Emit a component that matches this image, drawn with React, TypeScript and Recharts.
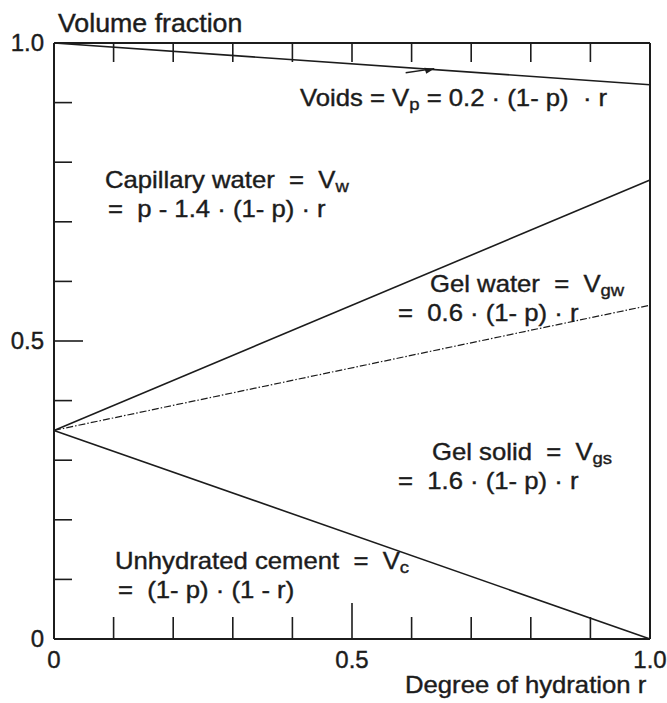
import React from 'react';
import { Line, LineChart, XAxis, YAxis } from 'recharts';

// degree of hydration r at the two ends of every straight boundary
const R_VALUES = [0, 1];
// cumulative volume fraction at r = 0 and r = 1
const VOIDS_TOP = [1.0, 0.93];
const CAPILLARY_LOWER = [0.35, 0.77];
const GEL_WATER_LOWER = [0.35, 0.56];
const CEMENT_UPPER = [0.35, 0.0];

// little arrow from the "Voids" label up to the top boundary
const ARROW_R = [0.59, 0.638];
const ARROW_V = [0.95, 0.957];

const X_TICKS = [0, 0.1, 0.2, 0.3, 0.4, 0.5, 0.6, 0.7, 0.8, 0.9, 1];
const Y_TICKS = [0, 0.1, 0.2, 0.3, 0.4, 0.5, 0.6, 0.7, 0.8, 0.9, 1];
const X_TICK_LABELS: Record<string, string> = { '0': '0', '0.5': '0.5', '1': '1.0' };
const Y_TICK_LABELS: Record<string, string> = { '0': '0', '0.5': '0.5', '1': '1.0' };

const data = R_VALUES.map((r, i) => ({
  r,
  top: VOIDS_TOP[i],
  capillary: CAPILLARY_LOWER[i],
  gelWater: GEL_WATER_LOWER[i],
  cement: CEMENT_UPPER[i],
}));
const arrowData = ARROW_R.map((r, i) => ({ r, v: ARROW_V[i] }));

const INK = '#1c1c1c';
const FONT = '"Liberation Sans", Arial, sans-serif';

const isMajor = (v: number) => Math.abs(v - 0.5) < 1e-6;
const isEnd = (v: number) => v < 1e-6 || v > 1 - 1e-6;

function BottomTick(props: any) {
  const { x, y, payload } = props;
  const v = payload.value as number;
  const label = X_TICK_LABELS[String(v)];
  return (
    <g>
      {!isEnd(v) && <line x1={x} y1={y} x2={x} y2={y - (isMajor(v) ? 36 : 22)} stroke={INK} strokeWidth={1.6} />}
      {label && (
        <text x={x} y={y + 29} textAnchor="middle" fontFamily={FONT} fontSize={24} fill={INK} stroke={INK} strokeWidth={0.4}>
          {label}
        </text>
      )}
    </g>
  );
}

function TopTick(props: any) {
  const { x, y, payload } = props;
  const v = payload.value as number;
  if (isEnd(v)) return <g />;
  return <line x1={x} y1={y} x2={x} y2={y + 19} stroke={INK} strokeWidth={1.6} />;
}

function LeftTick(props: any) {
  const { x, y, payload } = props;
  const v = payload.value as number;
  const label = Y_TICK_LABELS[String(v)];
  return (
    <g>
      {!isEnd(v) && <line x1={x} y1={y} x2={x + (isMajor(v) ? 29 : 18)} y2={y} stroke={INK} strokeWidth={1.6} />}
      {label && (
        <text x={x - 10} y={y + 8} textAnchor="end" fontFamily={FONT} fontSize={24} fill={INK} stroke={INK} strokeWidth={0.4}>
          {label}
        </text>
      )}
    </g>
  );
}

function RightTick(props: any) {
  const { x, y, payload } = props;
  const v = payload.value as number;
  if (isEnd(v)) return <g />;
  return <line x1={x} y1={y} x2={x - (isMajor(v) ? 27 : 16)} y2={y} stroke={INK} strokeWidth={1.6} />;
}

function ArrowHead(props: any) {
  const { cx, cy, index } = props;
  if (index !== 1) return <g key={`a${index}`} />;
  return (
    <polygon
      key="head"
      points={`${cx},${cy} ${cx - 10},${cy - 1} ${cx - 8},${cy + 5}`}
      fill={INK}
    />
  );
}

function Sub({ children }: { children: React.ReactNode }) {
  return <span style={{ fontSize: '0.72em', position: 'relative', top: '0.25em' }}>{children}</span>;
}

function Note({ left, top, children, size = 24 }: { left: number; top: number; children: React.ReactNode; size?: number }) {
  return (
    <div
      style={{
        position: 'absolute',
        left,
        top,
        transform: 'translateY(-50%) scaleX(1.07)',
        transformOrigin: 'left center',
        fontFamily: FONT,
        fontSize: size,
        color: INK,
        whiteSpace: 'pre',
        lineHeight: 1,
        WebkitTextStroke: '0.4px #1c1c1c',
      }}
    >
      {children}
    </div>
  );
}

const AXIS_LINE = { stroke: INK, strokeWidth: 2 };

export default function App() {
  return (
    <div style={{ position: 'absolute', left: 0, top: 0, width: 667, height: 703, background: '#fff' }}>
      <LineChart width={667} height={703} data={data} margin={{ top: 13, right: 7, bottom: 34, left: 24 }}>
        <XAxis
          xAxisId="bottom"
          dataKey="r"
          type="number"
          domain={[0, 1]}
          ticks={X_TICKS}
          height={30}
          tickSize={0}
          tickMargin={0}
          tickLine={false}
          axisLine={AXIS_LINE}
          tick={<BottomTick />}
          interval={0}
        />
        <XAxis
          xAxisId="top"
          orientation="top"
          dataKey="r"
          type="number"
          domain={[0, 1]}
          ticks={X_TICKS}
          height={30}
          tickSize={0}
          tickMargin={0}
          tickLine={false}
          axisLine={AXIS_LINE}
          tick={<TopTick />}
          interval={0}
        />
        <YAxis
          yAxisId="left"
          type="number"
          domain={[0, 1]}
          ticks={Y_TICKS}
          width={30}
          tickSize={0}
          tickMargin={0}
          tickLine={false}
          axisLine={AXIS_LINE}
          tick={<LeftTick />}
          interval={0}
        />
        <YAxis
          yAxisId="right"
          orientation="right"
          type="number"
          domain={[0, 1]}
          ticks={Y_TICKS}
          width={10}
          tickSize={0}
          tickMargin={0}
          tickLine={false}
          axisLine={AXIS_LINE}
          tick={<RightTick />}
          interval={0}
        />
        <Line xAxisId="bottom" yAxisId="left" type="linear" dataKey="top" stroke={INK} strokeWidth={1.6} dot={false} isAnimationActive={false} />
        <Line xAxisId="bottom" yAxisId="left" type="linear" dataKey="capillary" stroke={INK} strokeWidth={1.6} dot={false} isAnimationActive={false} />
        <Line
          xAxisId="bottom"
          yAxisId="left"
          type="linear"
          dataKey="gelWater"
          stroke={INK}
          strokeWidth={1.2}
          strokeDasharray="7 2 1.5 2"
          dot={false}
          isAnimationActive={false}
        />
        <Line xAxisId="bottom" yAxisId="left" type="linear" dataKey="cement" stroke={INK} strokeWidth={1.6} dot={false} isAnimationActive={false} />
        <Line
          xAxisId="bottom"
          yAxisId="left"
          data={arrowData}
          type="linear"
          dataKey="v"
          stroke={INK}
          strokeWidth={1.4}
          dot={<ArrowHead />}
          isAnimationActive={false}
        />
      </LineChart>

      <Note left={58} top={23} size={25}>Volume fraction</Note>

      <Note left={300} top={98}>
        Voids = V<Sub>p</Sub> = 0.2 · (1- p)  · r
      </Note>

      <Note left={105} top={180}>
        Capillary water  =  V<Sub>w</Sub>
      </Note>
      <Note left={108} top={209}>
        =  p - 1.4 · (1- p) · r
      </Note>

      <Note left={430} top={284}>
        Gel water  =  V<Sub>gw</Sub>
      </Note>
      <Note left={398} top={313}>
        =  0.6 · (1- p) · r
      </Note>

      <Note left={432} top={452}>
        Gel solid  =  V<Sub>gs</Sub>
      </Note>
      <Note left={398} top={481}>
        =  1.6 · (1- p) · r
      </Note>

      <Note left={115} top={561}>
        Unhydrated cement  =  V<Sub>c</Sub>
      </Note>
      <Note left={118} top={590}>
        =  (1- p) · (1 - r)
      </Note>

      <Note left={405} top={685}>Degree of hydration r</Note>
    </div>
  );
}
